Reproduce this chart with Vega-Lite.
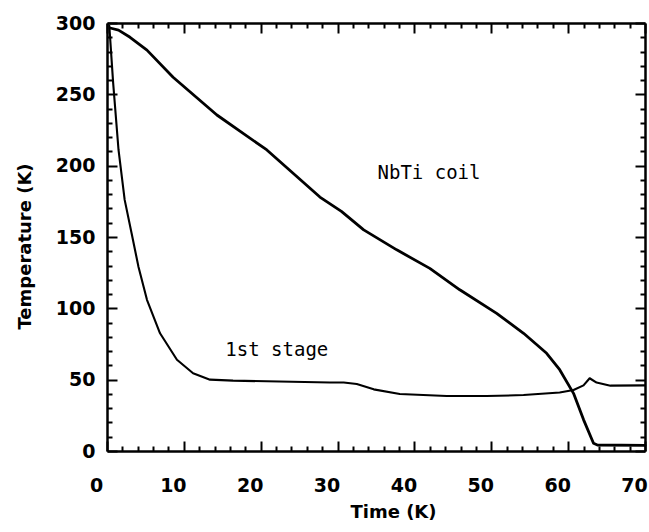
{
  "$schema": "https://vega.github.io/schema/vega-lite/v6.json",
  "width": 538,
  "height": 428,
  "autosize": {"type": "none"},
  "padding": {"left": 107, "top": 23, "right": 4, "bottom": 81},
  "background": "white",
  "config": {
    "view": {"stroke": null},
    "axis": {
      "domainColor": "black",
      "domainWidth": 2.5,
      "tickColor": "black",
      "tickWidth": 2,
      "grid": false,
      "labelFont": "DejaVu Sans",
      "labelFontWeight": "bold",
      "labelFontSize": 19,
      "labelColor": "black",
      "titleFont": "DejaVu Sans",
      "titleFontWeight": "bold",
      "titleFontSize": 18,
      "titleColor": "black"
    }
  },
  "datasets": {
    "curves": [
      {"series": "NbTi coil", "time": 0.4, "temp": 296.5},
      {"series": "NbTi coil", "time": 1.5, "temp": 295},
      {"series": "NbTi coil", "time": 3.0, "temp": 290},
      {"series": "NbTi coil", "time": 5.2, "temp": 281},
      {"series": "NbTi coil", "time": 8.6, "temp": 262},
      {"series": "NbTi coil", "time": 14.3, "temp": 235.5},
      {"series": "NbTi coil", "time": 20.8, "temp": 211},
      {"series": "NbTi coil", "time": 27.7, "temp": 178},
      {"series": "NbTi coil", "time": 30.5, "temp": 168},
      {"series": "NbTi coil", "time": 33.4, "temp": 155},
      {"series": "NbTi coil", "time": 37.7, "temp": 141},
      {"series": "NbTi coil", "time": 42.0, "temp": 128},
      {"series": "NbTi coil", "time": 45.9, "temp": 113},
      {"series": "NbTi coil", "time": 50.7, "temp": 96.5},
      {"series": "NbTi coil", "time": 54.2, "temp": 82.5},
      {"series": "NbTi coil", "time": 57.2, "temp": 68.5},
      {"series": "NbTi coil", "time": 58.9, "temp": 57},
      {"series": "NbTi coil", "time": 60.7, "temp": 40.4},
      {"series": "NbTi coil", "time": 62.0, "temp": 22},
      {"series": "NbTi coil", "time": 63.3, "temp": 5.4},
      {"series": "NbTi coil", "time": 63.8, "temp": 4.2},
      {"series": "NbTi coil", "time": 70.0, "temp": 4},
      {"series": "1st stage", "time": 0.3, "temp": 298},
      {"series": "1st stage", "time": 0.8, "temp": 258},
      {"series": "1st stage", "time": 1.5, "temp": 211},
      {"series": "1st stage", "time": 2.3, "temp": 176},
      {"series": "1st stage", "time": 3.2, "temp": 152.6},
      {"series": "1st stage", "time": 4.1, "temp": 129},
      {"series": "1st stage", "time": 5.2, "temp": 106},
      {"series": "1st stage", "time": 6.9, "temp": 82.5},
      {"series": "1st stage", "time": 9.1, "temp": 64},
      {"series": "1st stage", "time": 11.2, "temp": 54.5},
      {"series": "1st stage", "time": 13.4, "temp": 50},
      {"series": "1st stage", "time": 16.4, "temp": 49.3},
      {"series": "1st stage", "time": 29.0, "temp": 48},
      {"series": "1st stage", "time": 30.8, "temp": 48},
      {"series": "1st stage", "time": 32.5, "temp": 47},
      {"series": "1st stage", "time": 34.7, "temp": 43.2},
      {"series": "1st stage", "time": 38.1, "temp": 40},
      {"series": "1st stage", "time": 44.2, "temp": 38.5},
      {"series": "1st stage", "time": 49.4, "temp": 38.5},
      {"series": "1st stage", "time": 54.2, "temp": 39.2},
      {"series": "1st stage", "time": 58.9, "temp": 41},
      {"series": "1st stage", "time": 60.7, "temp": 42.8},
      {"series": "1st stage", "time": 62.0, "temp": 46},
      {"series": "1st stage", "time": 62.8, "temp": 51},
      {"series": "1st stage", "time": 63.7, "temp": 48},
      {"series": "1st stage", "time": 65.5, "temp": 45.8},
      {"series": "1st stage", "time": 70.0, "temp": 46}
    ],
    "notes": [
      {"label": "NbTi coil", "time": 35.2, "temp": 195},
      {"label": "1st stage", "time": 15.4, "temp": 71}
    ]
  },
  "layer": [
    {
      "data": {"name": "curves"},
      "mark": {"type": "line", "color": "black", "strokeJoin": "round", "strokeCap": "round"},
      "encoding": {
        "x": {
          "field": "time", "type": "quantitative",
          "scale": {"domain": [0, 70], "nice": false, "zero": false},
          "axis": {
            "orient": "bottom",
            "title": "Time (K)",
            "titleX": 286,
            "titleY": 61,
            "titleAlign": "center",
            "titleBaseline": "middle",
            "values": [0,2,4,6,8,10,12,14,16,18,20,22,24,26,28,30,32,34,36,38,40,42,44,46,48,50,52,54,56,58,60,62,64,66,68,70],
            "labelExpr": "datum.value % 10 === 0 ? datum.label : ''",
            "tickSize": {"condition": {"test": "datum.value % 10 === 0", "value": -10}, "value": -5},
            "labelPadding": 35,
            "labelOffset": -11,
            "labelFlush": false,
            "labelOverlap": false
          }
        },
        "y": {
          "field": "temp", "type": "quantitative",
          "scale": {"domain": [0, 300], "nice": false, "zero": false},
          "axis": {
            "orient": "left",
            "title": "Temperature (K)",
            "titleX": -82,
            "titleY": 223,
            "titleAngle": 270,
            "titleAlign": "center",
            "titleBaseline": "middle",
            "values": [0,10,20,30,40,50,60,70,80,90,100,110,120,130,140,150,160,170,180,190,200,210,220,230,240,250,260,270,280,290,300],
            "labelExpr": "datum.value % 50 === 0 ? datum.label : ''",
            "tickSize": {"condition": {"test": "datum.value % 50 === 0", "value": -10}, "value": -5},
            "labelPadding": 22,
            "labelFlush": false,
            "labelOverlap": false
          }
        },
        "detail": {"field": "series", "type": "nominal"},
        "strokeWidth": {
          "field": "series", "type": "nominal",
          "scale": {"domain": ["NbTi coil", "1st stage"], "range": [2.8, 2.1]},
          "legend": null
        }
      }
    },
    {
      "data": {"name": "notes"},
      "mark": {"type": "text", "font": "DejaVu Sans Mono", "fontSize": 19, "align": "left", "baseline": "middle", "color": "black"},
      "encoding": {
        "x": {
          "field": "time", "type": "quantitative",
          "axis": {
            "orient": "top", "title": null, "labels": false,
            "values": [0,2,4,6,8,10,12,14,16,18,20,22,24,26,28,30,32,34,36,38,40,42,44,46,48,50,52,54,56,58,60,62,64,66,68,70],
            "tickSize": {"condition": {"test": "datum.value % 10 === 0", "value": -10}, "value": -5}
          }
        },
        "y": {
          "field": "temp", "type": "quantitative",
          "axis": {
            "orient": "right", "title": null, "labels": false,
            "values": [0,10,20,30,40,50,60,70,80,90,100,110,120,130,140,150,160,170,180,190,200,210,220,230,240,250,260,270,280,290,300],
            "tickSize": {"condition": {"test": "datum.value % 50 === 0", "value": -10}, "value": -5}
          }
        },
        "text": {"field": "label", "type": "nominal"}
      }
    }
  ],
  "resolve": {"axis": {"x": "independent", "y": "independent"}}
}
